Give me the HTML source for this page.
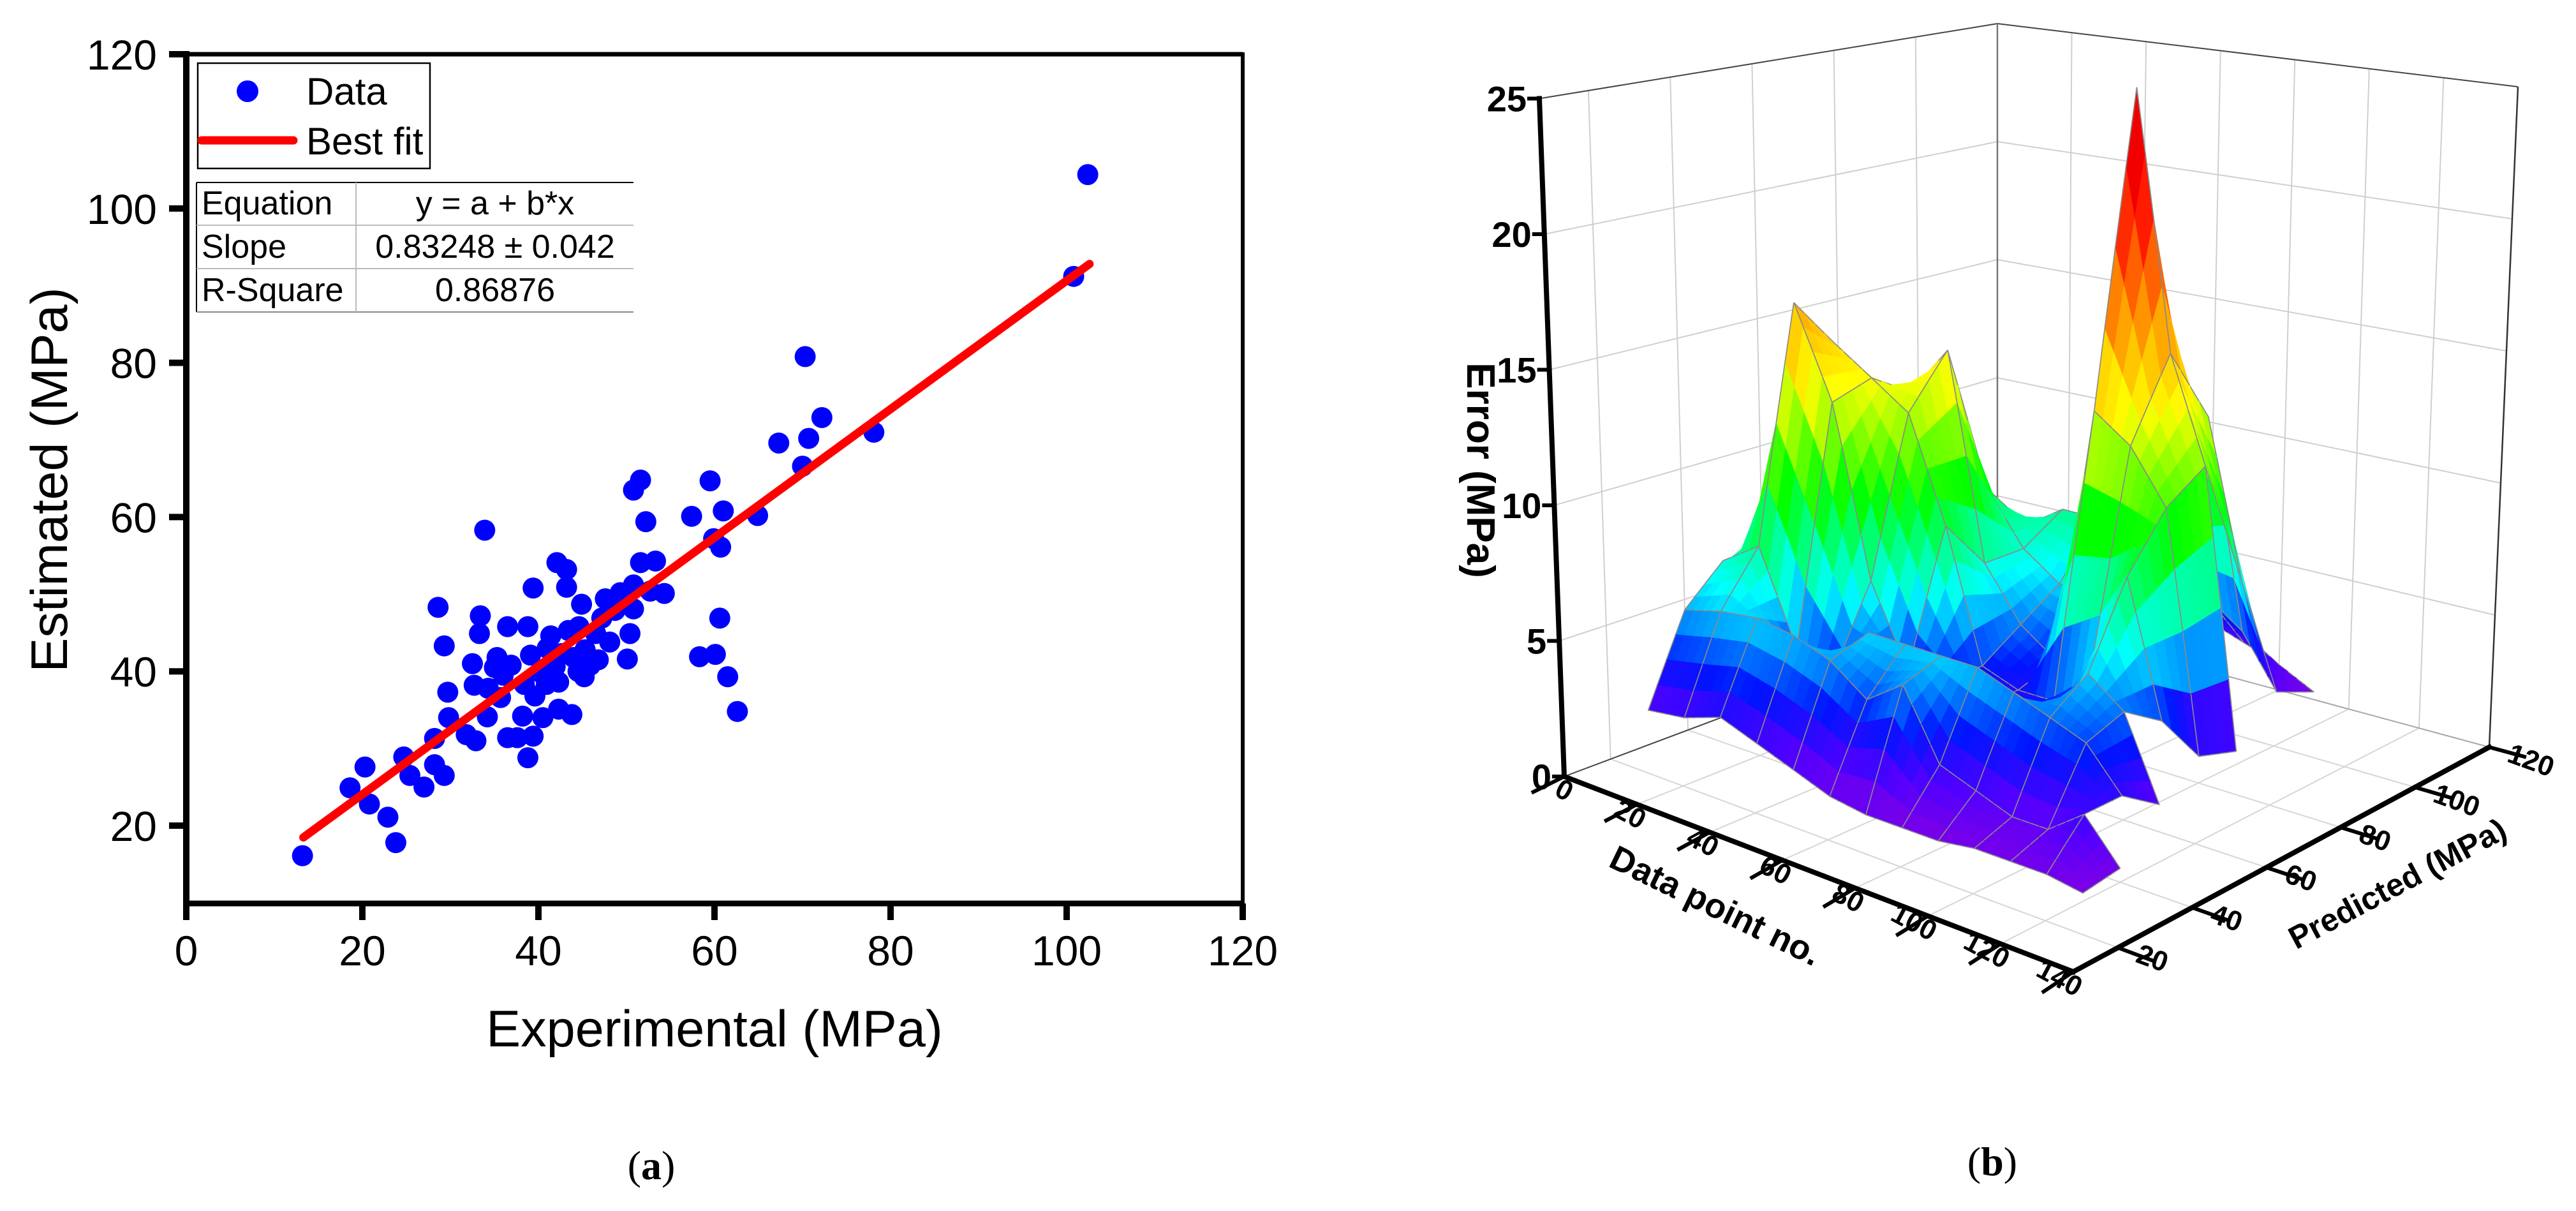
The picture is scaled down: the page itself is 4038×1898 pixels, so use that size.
<!DOCTYPE html>
<html><head><meta charset="utf-8"><style>
html,body{margin:0;padding:0;background:#fff}
svg{display:block}
text{font-family:"Liberation Sans",Arial,sans-serif}
</style></head><body>
<svg id="fig" width="4038" height="1898" viewBox="0 0 4038 1898" xmlns="http://www.w3.org/2000/svg">
<rect width="4038" height="1898" fill="#fff"/>
<g id="panelA">
  <g id="aMarks"></g>
  <g id="aAxes">
    <line x1="292" y1="85" x2="1948" y2="85" stroke="#000" stroke-width="7"/>
    <line x1="1948" y1="82" x2="1948" y2="1416" stroke="#000" stroke-width="6"/>
    <line x1="292" y1="80" x2="292" y2="1421" stroke="#000" stroke-width="10"/>
    <line x1="287" y1="1416" x2="1951" y2="1416" stroke="#000" stroke-width="9"/>
  </g>
  <g id="aTicks"></g>
  <g>
    <rect x="310" y="99" width="364" height="165" fill="#fff" stroke="#000" stroke-width="2.5"/>
    <circle cx="388" cy="143" r="17" fill="#0000ff"/>
    <text x="480" y="164" font-size="60">Data</text>
    <line x1="316" y1="220" x2="460" y2="220" stroke="#ff0000" stroke-width="13" stroke-linecap="round"/>
    <text x="480" y="242" font-size="60">Best fit</text>
  </g>
  <g>
    <rect x="308" y="286" width="685" height="203" fill="#fff"/>
    <line x1="308" y1="286" x2="993" y2="286" stroke="#000" stroke-width="2"/>
    <line x1="308" y1="286" x2="308" y2="489" stroke="#000" stroke-width="2"/>
    <line x1="308" y1="353" x2="993" y2="353" stroke="#bbb" stroke-width="2"/>
    <line x1="308" y1="421" x2="993" y2="421" stroke="#bbb" stroke-width="2"/>
    <line x1="308" y1="489" x2="993" y2="489" stroke="#888" stroke-width="2"/>
    <line x1="558" y1="286" x2="558" y2="489" stroke="#bbb" stroke-width="2"/>
    <text x="316" y="336" font-size="52">Equation</text>
    <text x="776" y="336" font-size="52" text-anchor="middle">y = a + b*x</text>
    <text x="316" y="404" font-size="52">Slope</text>
    <text x="776" y="404" font-size="52" text-anchor="middle">0.83248 ± 0.042</text>
    <text x="316" y="472" font-size="52">R-Square</text>
    <text x="776" y="472" font-size="52" text-anchor="middle">0.86876</text>
  </g>
  <text x="1120" y="1640" font-size="81" text-anchor="middle">Experimental (MPa)</text>
  <text transform="translate(105,752) rotate(-90)" font-size="81" text-anchor="middle">Estimated (MPa)</text>
  <text x="1021" y="1848" font-size="64" text-anchor="middle" style="font-family:'Liberation Serif',serif">(<tspan font-weight="bold">a</tspan>)</text>
</g>
<g id="panelB">
  <g id="bWalls"></g>
  <g id="bSurface"></g>
  <g id="bAxes"></g>
  <text transform="translate(2300,737) rotate(90)" font-size="62" font-weight="bold" text-anchor="middle">Error (MPa)</text>
  <text transform="translate(2681,1436) rotate(26)" font-size="54" font-weight="bold" text-anchor="middle">Data point no.</text>
  <text transform="translate(3766,1400) rotate(-28)" font-size="50" font-weight="bold" text-anchor="middle">Predicted (MPa)</text>
  <text x="3123" y="1842" font-size="64" text-anchor="middle" style="font-family:'Liberation Serif',serif">(<tspan font-weight="bold">b</tspan>)</text>
</g>
</svg>
<script>
// ---------- Panel (a) data ----------
const expVals = [13.2,18.6,20.3,20.8,22.9,23.8,24.7,25.4,27.0,28.2,28.2,29.3,28.6,29.3,29.7,29.8,31.8,32.5,32.9,32.7,33.4,33.3,33.9,34.3,34.2,35.3,35.7,36.5,36.5,36.9,37.6,38.2,38.4,38.8,38.8,39.1,39.4,39.4,39.6,40.3,40.5,40.9,41.4,41.9,42.1,42.3,42.3,42.6,43.2,43.2,43.4,43.8,44.0,44.6,44.9,45.2,45.3,45.9,46.5,47.2,47.6,48.1,48.7,49.3,50.1,50.4,50.8,50.8,50.8,51.6,51.6,52.2,52.7,53.3,54.3,57.4,58.3,59.5,59.9,60.1,60.6,60.7,61.0,61.5,62.6,64.9,67.3,70.0,70.3,70.7,72.2,78.1,100.8,102.4,41.0,44.5,46.8,36.0,35.0];
const estVals = [16.1,24.9,27.6,22.8,21.1,17.8,28.9,26.5,25.0,27.9,31.3,26.5,48.3,43.3,37.3,34.0,31.8,41.0,31.0,38.2,47.2,44.9,58.3,37.8,34.1,41.8,36.6,45.8,31.4,40.8,31.4,34.2,38.3,28.8,45.8,42.1,50.8,31.6,36.8,39.8,34.0,38.3,44.6,40.6,54.1,38.6,35.1,42.3,53.2,50.9,45.3,34.4,41.8,45.8,48.7,39.3,42.8,40.8,44.9,46.9,49.4,43.8,47.9,50.2,41.6,44.9,48.1,63.5,51.2,64.8,54.1,59.4,50.4,54.3,50.1,60.1,41.9,64.7,57.2,42.2,46.9,56.1,60.8,39.3,34.8,60.2,69.6,66.6,80.8,70.2,72.9,71.0,91.2,104.4,43.0,40.0,41.5,39.5,40.5];
const fitRange = [13.3,102.6];
const fitIntercept = 7.4;
const fitSlope = 0.83248;
const xTicks = [0,20,40,60,80,100,120];
const yTicks = [20,40,60,80,100,120];

const NS='http://www.w3.org/2000/svg';
function mk(tag, attrs, parent){const e=document.createElementNS(NS,tag);for(const k in attrs)e.setAttribute(k,attrs[k]);parent.appendChild(e);return e;}
const sx = v => 292 + v*13.8;
const sy = v => 85 + (120 - v)*12.09;

const aMarks=document.getElementById('aMarks');
for(let i=0;i<expVals.length;i++){
  const c=mk('circle',{cx:sx(expVals[i]),cy:sy(estVals[i]),r:16.5,fill:'#0000ff'},aMarks);
  
  
}
const fl=mk('line',{x1:sx(fitRange[0]),y1:sy(fitIntercept+fitSlope*fitRange[0]),x2:sx(fitRange[1]),y2:sy(fitIntercept+fitSlope*fitRange[1]),stroke:'#ff0000','stroke-width':13,'stroke-linecap':'round'},aMarks);



const aTicks=document.getElementById('aTicks');
xTicks.forEach(t=>{
  const l=mk('line',{x1:sx(t),y1:1416,x2:sx(t),y2:1442,stroke:'#000','stroke-width':10},aTicks);
  
  
  const tx=mk('text',{x:sx(t),y:1513,'font-size':66,'text-anchor':'middle'},aTicks);
  tx.textContent=t;
  
  
});
yTicks.forEach(t=>{
  const l=mk('line',{x1:265,y1:sy(t),x2:292,y2:sy(t),stroke:'#000','stroke-width':10},aTicks);
  
  
  const tx=mk('text',{x:246,y:sy(t)+24,'font-size':66,'text-anchor':'end'},aTicks);
  tx.textContent=t;
  
  
});

// ---------- Panel (b) data ----------
const dataIdx = [0,10,20,30,40,50,60,70,80,90,100,110,120,130,140];
const predLevels = [30,40,50,60,70,80,90,100,110,120];
const errRow30  = [1.3,1.5,2.0,1.5,1.0,0.5,0.3,0.3,0.3,0.5,0.5,0.5,0.3,0.2,null];
const errRow40  = [4.6,5.0,5.2,5.0,4.5,3.5,4.5,2.0,1.5,1.0,1.0,2.0,0.5,null,null];
const errRow50  = [6.0,7.0,3.5,3.0,5.0,5.0,5.0,5.0,4.5,4.0,3.5,2.0,null,null,null];
const errRow60  = [4.0,16.0,12.5,6.0,3.0,3.0,2.5,3.0,3.0,5.0,4.0,1.0,null,null,null];
const errRow70  = [3.5,14.0,13.0,12.0,8.0,3.0,2.5,2.5,4.0,8.0,3.0,null,null,null,null];
const errRow80  = [3.0,10.0,12.0,14.0,6.0,4.0,3.0,13.0,12.0,10.0,1.0,null,null,null,null];
const errRow90  = [3.0,5.0,9.0,8.0,6.0,5.0,5.0,25.0,15.0,11.0,0.5,null,null,null,null];
const errRow100 = [3.0,4.0,5.0,6.0,7.0,7.0,6.0,10.0,12.0,6.0,null,null,null,null,null];
const errRow110 = [3.0,3.5,4.0,5.0,6.0,6.0,5.0,4.0,3.0,1.0,null,null,null,null,null];
const errRow120 = [3.3,3.0,3.0,3.0,3.0,2.5,2.0,1.5,1.0,0.3,null,null,null,null,null];
const errGrid = [errRow30,errRow40,errRow50,errRow60,errRow70,errRow80,errRow90,errRow100,errRow110,errRow120];
const dTicks = [0,20,40,60,80,100,120,140];
const pTicks = [20,40,60,80,100,120];
const zTicks = [0,5,10,15,20,25];

function proj(d,p,z){
  const u=d/140, v=(p-8)/112;
  const s=42.5*(1-u)*(1-v)+45*u*(1-v)+37*(1-u)*v+41.4*u*v;
  const sl=-1.56*(1-u)*(1-v)+1.8*u*v;
  return [2452+798*u+679*v-27*u*v+sl*z, 1217+306*u-255*v-97*u*v-s*z];
}
const pts=a=>a.map(q=>q[0].toFixed(1)+','+q[1].toFixed(1)).join(' ');

const W=document.getElementById('bWalls');
function gl(a,b,col,w,name){const l=mk('line',{x1:a[0],y1:a[1],x2:b[0],y2:b[1],stroke:col,'stroke-width':w},W);return l;}
[5,10,15,20].forEach(z=>{gl(proj(0,8,z),proj(0,120,z),'#cfcfcf',2,'wall-gridline');gl(proj(0,120,z),proj(140,120,z),'#cfcfcf',2,'wall-gridline');});
pTicks.forEach(p=>{gl(proj(0,p,0),proj(0,p,25),'#cfcfcf',2,'wall-gridline');gl(proj(0,p,0),proj(140,p,0),'#d6d6d6',2,'floor-gridline');});
dTicks.forEach(d=>{gl(proj(d,120,0),proj(d,120,25),'#cfcfcf',2,'wall-gridline');gl(proj(d,8,0),proj(d,120,0),'#d6d6d6',2,'floor-gridline');});
gl(proj(0,8,25),proj(0,120,25),'#444',2,'wall-top-edge');
gl(proj(0,120,25),proj(140,120,25),'#444',2,'wall-top-edge');
gl(proj(0,120,0),proj(0,120,25),'#777',2.5,'back-corner-edge');
gl(proj(140,120,0),proj(140,120,25),'#333',2.5,'right-wall-edge');
gl(proj(0,8,0),proj(0,120,0),'#444',2,'floor-edge');
gl(proj(0,120,0),proj(140,120,0),'#aaa',2,'floor-edge');

const stops=[[0,[135,0,225]],[1.5,[80,0,255]],[3,[0,20,255]],[5.5,[0,255,255]],[9,[0,255,0]],[13,[255,255,0]],[17,[255,128,0]],[21,[255,0,0]],[27,[200,0,0]]];
function col(z){
  if(z<=stops[0][0])return 'rgb('+stops[0][1]+')';
  for(let i=1;i<stops.length;i++){if(z<=stops[i][0]){const a=stops[i-1],b=stops[i],t=(z-a[0])/(b[0]-a[0]);return 'rgb('+a[1].map((c,k)=>Math.round(c+(b[1][k]-c)*t)).join(',')+')';}}
  return 'rgb('+stops[stops.length-1][1]+')';
}
const S=document.getElementById('bSurface');
const N=4, cells=[];
for(let r=0;r<predLevels.length-1;r++)for(let c=0;c<dataIdx.length-1;c++){
  const z00=errGrid[r][c],z01=errGrid[r][c+1],z10=errGrid[r+1][c],z11=errGrid[r+1][c+1];
  if(z00==null||z01==null||z10==null||z11==null)continue;
  for(let i=0;i<N;i++)for(let j=0;j<N;j++)cells.push({r,c,i,j,z00,z01,z10,z11,key:(c*N+j)-(r*N+i)});
}
cells.sort((a,b)=>a.key-b.key);
cells.forEach(o=>{
  const p0=predLevels[o.r],p1=predLevels[o.r+1],d0=dataIdx[o.c],d1=dataIdx[o.c+1];
  const Z=(a,b)=>o.z00*(1-a)*(1-b)+o.z01*(1-a)*b+o.z10*a*(1-b)+o.z11*a*b;
  const P=(a,b)=>proj(d0+(d1-d0)*b,p0+(p1-p0)*a,Z(a,b));
  const a0=o.i/N,a1=(o.i+1)/N,b0=o.j/N,b1=(o.j+1)/N;
  const q=[P(a0,b0),P(a0,b1),P(a1,b1),P(a1,b0)];
  const f=col((Z(a0,b0)+Z(a0,b1)+Z(a1,b1)+Z(a1,b0))/4);
  const pg=mk('polygon',{points:pts(q),fill:f,stroke:f,'stroke-width':1.2,'stroke-linejoin':'round'},S);
  
  
  const edge=(A,B)=>{const l=mk('line',{x1:A[0],y1:A[1],x2:B[0],y2:B[1],stroke:'#8a8a8a','stroke-width':1.6},S);};
  if(o.i===0)edge(q[0],q[1]);
  if(o.j===0)edge(q[0],q[3]);
  if(o.i===N-1)edge(q[3],q[2]);
  if(o.j===N-1)edge(q[1],q[2]);
});

const AX=document.getElementById('bAxes');
function al(a,b,w,name){const l=mk('line',{x1:a[0],y1:a[1],x2:b[0],y2:b[1],stroke:'#000','stroke-width':w,'stroke-linecap':'square'},AX);}
al(proj(0,8,0),proj(0,8,25),8,'z-axis-line');
al(proj(0,8,0),proj(140,8,0),8,'data-axis-line');
al(proj(140,8,0),proj(140,120,0),8,'predicted-axis-line');
zTicks.forEach(z=>{
  const a=proj(0,8,z);
  al(a,[a[0]-16,a[1]],6,'z-tick');
  const t=mk('text',{x:a[0]-20,y:a[1]+20,'font-size':56,'font-weight':'bold','text-anchor':'end'},AX);
  t.textContent=z;
  
  
});
dTicks.forEach(d=>{
  const a=proj(d,8,0),b=proj(d,0,0);
  al(a,[b[0],b[1]+6],6,'data-tick');
  const t=mk('text',{transform:'translate('+(a[0]+4)+','+(a[1]+40)+') rotate(28)','font-size':44,'font-weight':'bold','text-anchor':'end'},AX);
  t.textContent=d;
  
  
});
pTicks.forEach(p=>{
  const a=proj(140,p,0),b=proj(150,p,0);
  al(a,b,6,'predicted-tick');
  const t=mk('text',{transform:'translate('+(a[0]+26)+','+(a[1]+22)+') rotate(20)','font-size':44,'font-weight':'bold','text-anchor':'start'},AX);
  t.textContent=p;
  
  
});
</script>
</body></html>
